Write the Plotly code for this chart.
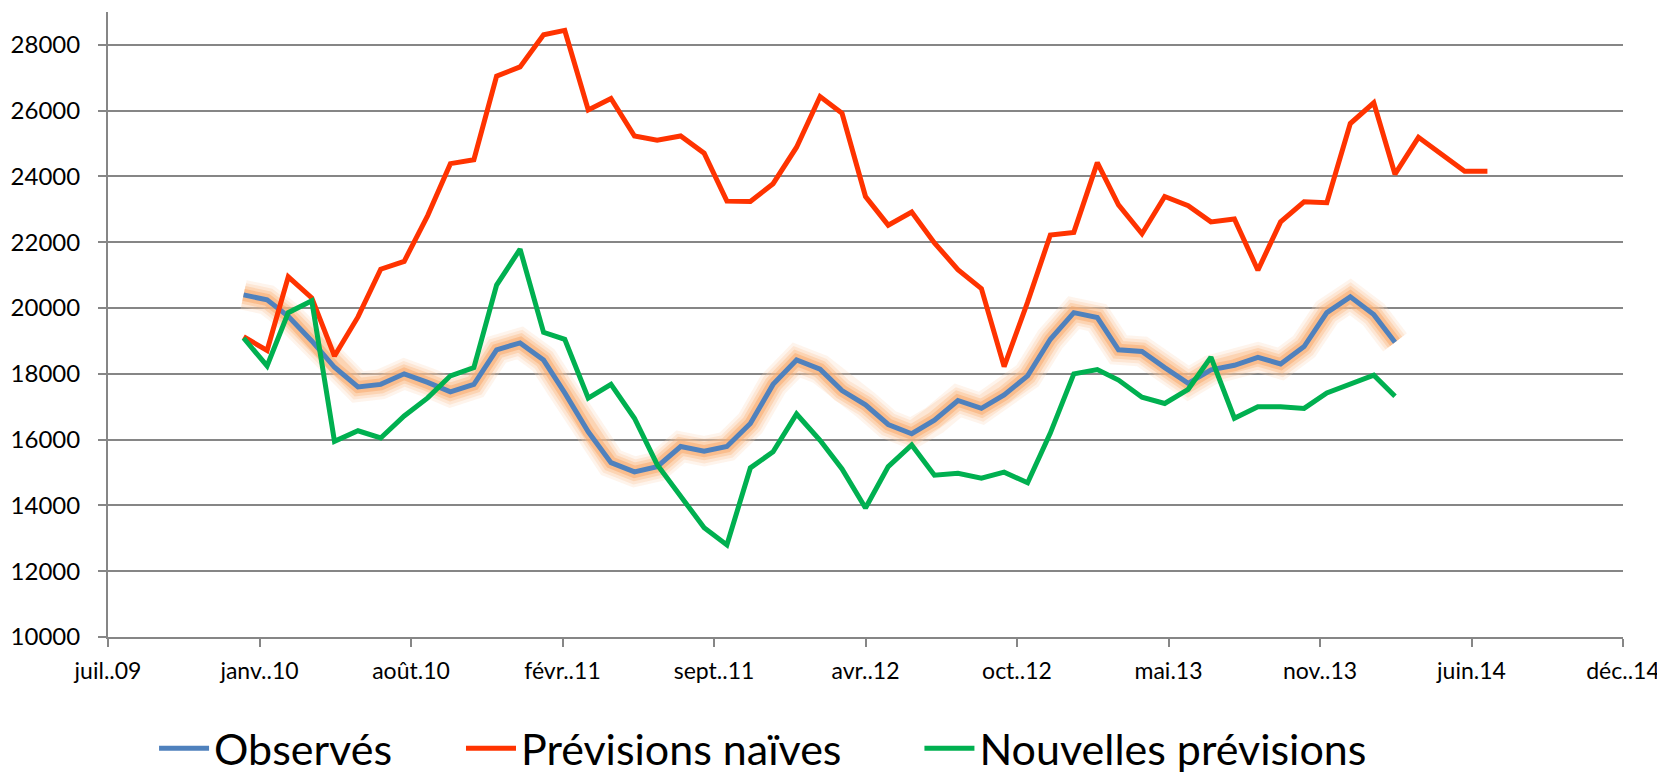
import pandas as pd
import plotly.graph_objects as go

# ---- data ----
start_month = "2010-01-01"
observes = [20400, 20250, 19750, 19000, 18200, 17600, 17680, 18000, 17740, 17450,
            17680, 18730, 18940, 18420, 17420, 16240, 15300, 15020, 15180, 15790,
            15650, 15790, 16490, 17680, 18420, 18140, 17490, 17060, 16460, 16180,
            16590, 17190, 16950, 17360, 17940, 19050, 19860, 19710, 18730, 18680,
            18190, 17710, 18120, 18260, 18500, 18300, 18830, 19860, 20340, 19800,
            18960]
previsions_naives = [19130, 18710, 20950, 20310, 18540, 19730, 21180, 21420, 22810, 24390,
                     24510, 27050, 27330, 28310, 28440, 26020, 26370, 25230, 25100, 25230,
                     24710, 23250, 23240, 23780, 24890, 26430, 25920, 23390, 22520, 22920,
                     21980, 21170, 20590, 18220, 20180, 22220, 22300, 24420, 23140, 22260,
                     23390, 23110, 22620, 22710, 21150, 22620, 23230, 23200, 25610, 26240,
                     24070, 25190, 24680, 24160, 24160]
nouvelles_previsions = [19090, 18240, 19860, 20220, 15950, 16270, 16050, 16720, 17270, 17940,
                        18190, 20700, 21790, 19260, 19050, 17260, 17680, 16650, 15240, 14280,
                        13320, 12800, 15140, 15630, 16780, 15980, 15110, 13920, 15180, 15840,
                        14920, 14980, 14830, 15010, 14690, 16200, 18000, 18130, 17810, 17290,
                        17100, 17530, 18510, 16650, 17000, 17000, 16950, 17420, 17680, 17960,
                        17320]
series_names = ["Observés", "Prévisions naïves", "Nouvelles prévisions"]
tick_serials = [40000, 40200, 40400, 40600, 40800, 41000, 41200, 41400, 41600, 41800, 42000]
tick_labels = ["juil..09", "janv..10", "août.10", "févr..11", "sept..11", "avr..12",
               "oct..12", "mai.13", "nov..13", "juin.14", "déc..14"]

# ---- build ----
excel_epoch = pd.Timestamp("1899-12-30")
tick_dates = [excel_epoch + pd.Timedelta(days=s) for s in tick_serials]
months_obs = pd.date_range(start_month, periods=len(observes), freq="MS")
months_naive = pd.date_range(start_month, periods=len(previsions_naives), freq="MS")
months_new = pd.date_range(start_month, periods=len(nouvelles_previsions), freq="MS")

BLUE = "#4F81BD"
RED = "#FF3300"
GREEN = "#00B050"
GRID = "#868686"
FONT = "Lato"

fig = go.Figure()
# soft orange glow under the observed series
for w, c in [(30, "rgba(252,213,180,0.25)"), (24, "rgba(251,200,155,0.30)"),
             (18, "rgba(250,185,130,0.40)"), (12, "rgba(248,170,110,0.55)")]:
    fig.add_trace(go.Scatter(x=months_obs, y=observes, mode="lines",
                             line=dict(color=c, width=w),
                             showlegend=False, hoverinfo="skip"))
fig.add_trace(go.Scatter(x=months_obs, y=observes, mode="lines", name=series_names[0],
                         line=dict(color=BLUE, width=5), legend="legend"))
fig.add_trace(go.Scatter(x=months_naive, y=previsions_naives, mode="lines", name=series_names[1],
                         line=dict(color=RED, width=5), legend="legend2"))
fig.add_trace(go.Scatter(x=months_new, y=nouvelles_previsions, mode="lines", name=series_names[2],
                         line=dict(color=GREEN, width=5), legend="legend3"))

# the page body has an 8px margin: figure coords = screen coords - 8
leg_common = dict(orientation="h", xanchor="left", y=-0.178, yanchor="middle",
                  font=dict(size=43, family=FONT, color="black"),
                  bgcolor="rgba(0,0,0,0)", itemwidth=50)

fig.update_layout(
    width=1657, height=770,
    margin=dict(l=100, r=42, t=4, b=141, pad=0, autoexpand=False),
    paper_bgcolor="white", plot_bgcolor="white",
    font=dict(family=FONT, color="black"),
    showlegend=True,
    legend=dict(x=0.0304, **leg_common),
    legend2=dict(x=0.233, **leg_common),
    legend3=dict(x=0.5356, **leg_common),
    xaxis=dict(type="date", range=[tick_dates[0], tick_dates[-1]],
               tickmode="array", tickvals=tick_dates, ticktext=tick_labels,
               showgrid=False, zeroline=False,
               showline=True, linecolor=GRID, linewidth=2,
               ticks="outside", ticklen=8, tickwidth=2, tickcolor=GRID,
               tickfont=dict(size=23, family=FONT, color="black"),
               ticklabelstandoff=4),
    yaxis=dict(range=[10000, 29000], tick0=10000, dtick=2000, tickformat="d",
               showgrid=True, gridcolor=GRID, gridwidth=2, zeroline=False,
               showline=True, linecolor=GRID, linewidth=2,
               ticks="outside", ticklen=8, tickwidth=2, tickcolor=GRID,
               tickfont=dict(size=24, family=FONT, color="black"),
               ticklabelstandoff=13),
)

fig.write_html("out.html")
